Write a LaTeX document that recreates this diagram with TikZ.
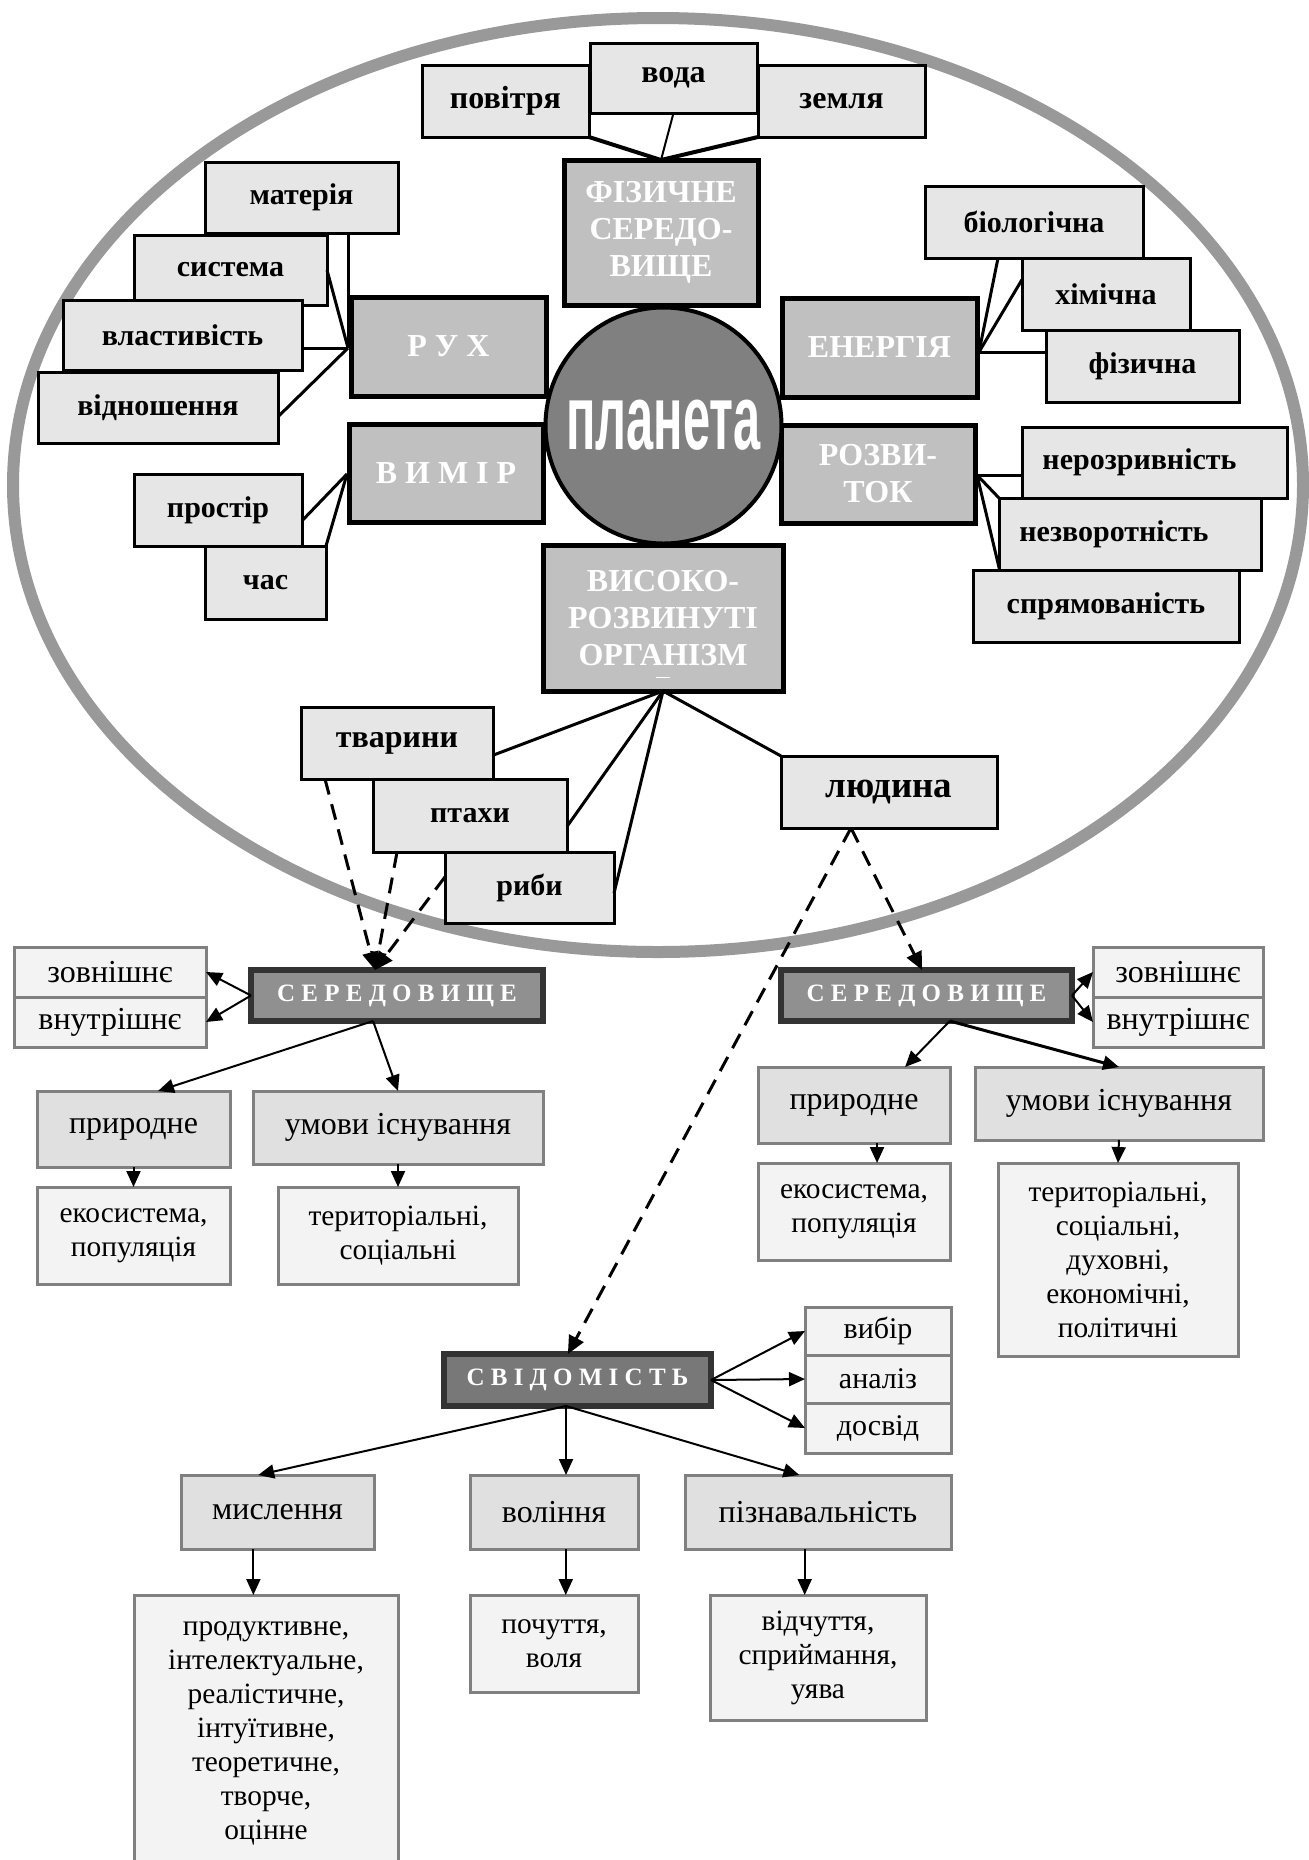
\documentclass[tikz,border=0pt]{standalone}
\usepackage{fontspec}
\setmainfont{Liberation Serif}
\newfontfamily\planfont{Liberation Sans}
\usepackage{graphicx}
\usetikzlibrary{arrows.meta,calc}
\definecolor{ellgray}{HTML}{999999}
\definecolor{boxlight}{HTML}{E6E6E6}
\definecolor{hdrgray}{HTML}{C0C0C0}
\definecolor{planetgray}{HTML}{808080}
\definecolor{lowborder}{HTML}{808080}
\definecolor{midgray}{HTML}{E0E0E0}
\definecolor{palegray}{HTML}{F3F3F3}
\definecolor{darkb}{HTML}{333333}
\definecolor{dgray}{HTML}{909090}
\definecolor{dgraytwo}{HTML}{787878}
\tikzset{
  bxbase/.style={rectangle, inner sep=0pt, outer sep=0pt, align=center},
  lbox/.style={bxbase, draw=black, line width=1.5pt, fill=boxlight, font=\fontsize{15}{18}\selectfont\bfseries},
  lboxbig/.style={lbox, font=\fontsize{16}{18}\selectfont\bfseries},
  hbox/.style={bxbase, draw=black, line width=2.5pt, fill=hdrgray, text=white, font=\fontsize{16}{18.5}\selectfont\bfseries},
  gbox/.style={bxbase, draw=lowborder, line width=1.5pt, fill=midgray, font=\fontsize{16}{17}\selectfont},
  wbox/.style={gbox, fill=palegray, font=\fontsize{14.7}{17}\selectfont},
  sbox/.style={gbox, fill=palegray, font=\fontsize{15}{17}\selectfont},
  dbox/.style={bxbase, draw=darkb, line width=3pt, fill=dgray, text=white, font=\fontsize{12.5}{14}\selectfont\bfseries},
  conn/.style={line width=1.5pt},
  arr/.style={line width=1pt, -{Triangle[length=8pt,width=7pt]}},
  darr/.style={line width=1.5pt, dash pattern=on 8pt off 5pt, -{Triangle[length=9pt,width=8pt]}},
}
\newcommand\bx[7]{%
  \node[#6, minimum width={(#4-(#2))*0.5pt}, minimum height={(#5-(#3))*0.5pt}] (#1) at ({((#2)+(#4))/2},{((#3)+(#5))/2}) {#7};}
\begin{document}
\begin{tikzpicture}[x=0.5pt,y=-0.5pt]
\useasboundingbox (0,0) rectangle (1309,1860);
\fill[white] (0,0) rectangle (1309,1860);
% big ellipse
\draw[ellgray, line width=6pt] (658,485) ellipse [x radius=645, y radius=467];

% top group
\bx{pov}{422}{65}{589}{137}{lboxbig}{повітря}
\bx{voda}{590}{43}{757}{113}{lboxbig}{вода}
\bx{zem}{758}{65}{925}{137}{lboxbig}{земля}
\bx{fiz}{564}{160}{758}{305}{hbox}{ФІЗИЧНЕ\\СЕРЕДО-\\ВИЩЕ}

% рух
\bx{mat}{205}{162}{398}{233}{lbox}{матерія}
\bx{sys}{134}{235}{327}{305}{lbox}{система}
\bx{vlast}{63}{300}{302}{370}{lbox}{властивість}
\bx{vidn}{38}{372}{278}{443}{lbox}{відношення}
\bx{rukh}{351}{297}{546}{396}{hbox}{Р У Х}

% вимір
\bx{vymir}{349}{424}{543}{522}{hbox}{В И М І Р}
\bx{prost}{134}{474}{302}{546}{lbox}{простір}
\bx{chas}{205}{546}{326}{619}{lbox}{час}

% енергія
\bx{energ}{782}{298}{977}{397}{hbox}{ЕНЕРГІЯ}
\bx{biol}{925}{186}{1143}{258}{lbox}{біологічна}
\bx{khim}{1022}{258}{1190}{330}{lbox}{хімічна}
\bx{fizn}{1046}{330}{1239}{402}{lbox}{фізична}

% розвиток
\bx{rozv}{781}{425}{975}{523}{hbox}{РОЗВИ-\\ТОК}
\bx{neroz}{1022}{427}{1287}{498}{lbox}{нерозривність\hspace*{15pt}}
\bx{nezv}{999}{498}{1261}{570}{lbox}{незворотність\hspace*{16pt}}
\bx{spr}{973}{570}{1239}{642}{lbox}{спрямованість}

% planet
\node[circle, draw=black, line width=2pt, fill=planetgray, minimum size=118pt, inner sep=0pt, text=white] (planet) at (663.5,425.5) {\planfont\bfseries\fontsize{46}{50}\selectfont\scalebox{0.53}[1]{планета}};

% organisms
\bx{vys}{543}{545}{783}{691}{hbox}{ВИСОКО-\\РОЗВИНУТІ\\ОРГАНІЗМ}
\draw[white, line width=0.4pt] ($(vys.south)+(-7,-14)$) -- ($(vys.south)+(7,-14)$);
\bx{tvar}{301}{707}{493}{779}{lboxbig}{тварини}
\bx{ptah}{373}{779}{567}{852}{lbox}{птахи}
\bx{ryby}{445}{852}{614}{923}{lbox}{риби}
\bx{lyud}{781}{756}{997}{828}{lbox, font=\fontsize{18.5}{20}\selectfont\bfseries}{людина}

% lower left
\bx{serL}{251}{970}{543}{1021}{dbox}{С Е Р Е Д О В И Щ Е}
\bx{zovL}{14}{947}{206}{997}{gbox, fill=palegray}{зовнішнє}
\bx{vnuL}{14}{997}{206}{1047}{gbox, fill=palegray}{внутрішнє}
\bx{prirL}{37}{1091}{230}{1167}{gbox}{природне}
\bx{umovL}{253}{1091}{543}{1164}{gbox}{умови існування}
\bx{ekoL}{37}{1187}{230}{1284}{wbox}{екосистема,\\популяція}
\bx{terL}{278}{1187}{518}{1284}{wbox}{територіальні,\\соціальні}

% lower right
\bx{serR}{781}{970}{1072}{1021}{dbox}{С Е Р Е Д О В И Щ Е}
\bx{zovR}{1093}{947}{1263}{997}{gbox, fill=palegray}{зовнішнє}
\bx{vnuR}{1093}{997}{1263}{1047}{gbox, fill=palegray}{внутрішнє}
\bx{prirR}{758}{1067}{950}{1143}{gbox}{природне}
\bx{umovR}{975}{1067}{1263}{1140}{gbox}{умови існування}
\bx{ekoR}{758}{1163}{950}{1260}{wbox}{екосистема,\\популяція}
\bx{terR}{998}{1163}{1238}{1356}{wbox}{територіальні,\\соціальні,\\духовні,\\економічні,\\політичні}

% свідомість
\bx{svid}{444}{1354}{711}{1406}{dbox, fill=dgraytwo}{С В І Д О М І С Т Ь}
\bx{vyb}{805}{1307}{951}{1355}{sbox}{вибір}
\bx{anal}{805}{1355}{951}{1403}{sbox}{аналіз}
\bx{dosv}{805}{1403}{951}{1453}{sbox}{досвід}
\bx{mysl}{181}{1475}{374}{1549}{gbox}{мислення}
\bx{vol}{470}{1475}{638}{1549}{gbox}{воління}
\bx{pizn}{685}{1475}{951}{1549}{gbox}{пізнавальність}
\bx{prod}{134}{1595}{398}{1872}{wbox}{продуктивне,\\інтелектуальне,\\реалістичне,\\інтуїтивне,\\теоретичне,\\творче,\\оцінне}
\bx{poch}{470}{1595}{638}{1692}{wbox}{почуття,\\воля}
\bx{vidch}{710}{1595}{926}{1720}{wbox}{відчуття,\\сприймання,\\уява}

% ---- connectors inside ellipse
\draw[line width=2pt] (pov.south east) -- (fiz.north);
\draw[line width=2pt] (zem.south west) -- (fiz.north);
\draw[line width=1pt] (voda.south) -- (fiz.north);

\coordinate (rhub) at (348,348);
\draw[conn] (mat.south -| rhub) -- (rhub);
\draw[conn] (sys.east) -- (rhub);
\draw[conn] (rhub -| vlast.east) -- (rhub);
\draw[conn] ($(vidn.south east)!0.37!(vidn.north east)$) -- (rhub);

\coordinate (vhub) at (347,474);
\draw[conn] (vhub) -- ($(prost.south east)!0.35!(prost.north east)$);
\draw[conn] (vhub) -- (chas.north east);

\coordinate (ehub) at (979,352);
\draw[conn] (ehub) -- ($(biol.south west)!0.335!(biol.south east)$);
\draw[conn] (ehub) -- ($(khim.north west)!0.3!(khim.south west)$);
\draw[conn] (ehub) -- (ehub -| fizn.west);

\coordinate (zhub) at (977,475);
\draw[conn] (zhub) -- (zhub -| neroz.west);
\draw[conn] (zhub) -- (nezv.north west);
\draw[conn] (zhub) -- ($(spr.north west)!0.1!(spr.north east)$);

\draw[conn] (vys.south) -- ($(tvar.south east)!0.33!(tvar.north east)$);
\draw[conn] (vys.south) -- ($(ptah.south east)!0.35!(ptah.north east)$);
\draw[conn] (vys.south) -- ($(ryby.south east)!0.42!(ryby.north east)$);
\draw[conn] (vys.south) -- (lyud.north west);

% ---- dashed arrows
\coordinate (sLtop) at ($(serL.north west)!0.425!(serL.north east)$);
\draw[darr] ($(tvar.south west)!0.125!(tvar.south east)$) -- (sLtop);
\draw[darr] ($(ptah.south west)!0.124!(ptah.south east)$) -- (sLtop);
\draw[darr] ($(ryby.north west)!0.35!(ryby.south west)$) -- (sLtop);
\coordinate (lyb) at ($(lyud.south west)!0.324!(lyud.south east)$);
\draw[darr] (lyb) -- ($(serR.north west)!0.485!(serR.north east)$);
\draw[darr] (lyb) -- ($(svid.north west)!0.464!(svid.north east)$);

% ---- lower left arrows
\draw[arr] (serL.west) -- (zovL.east);
\draw[arr] (serL.west) -- (vnuL.east);
\coordinate (sLbot) at ($(serL.south west)!0.418!(serL.south east)$);
\draw[arr] (sLbot) -- ($(prirL.north west)!0.627!(prirL.north east)$);
\draw[arr] (sLbot) -- (umovL.north);
\draw[arr] (prirL.south) -- (ekoL.north);
\draw[arr] (umovL.south) -- (terL.north);

% ---- lower right arrows
\draw[arr] (serR.east) -- (zovR.west);
\draw[arr] (serR.east) -- (vnuR.west);
\coordinate (sRbot) at ($(serR.south west)!0.58!(serR.south east)$);
\draw[arr] (sRbot) -- ($(prirR.north west)!0.766!(prirR.north east)$);
\draw[arr, line width=1.5pt] (sRbot) -- (umovR.north);
\coordinate (pRb) at ($(prirR.south west)!0.62!(prirR.south east)$);
\draw[arr] (pRb) -- (pRb |- ekoR.north);
\draw[arr] (umovR.south) -- (terR.north);

% ---- свідомість arrows
\draw[arr] (svid.east) -- (vyb.west);
\draw[arr] (svid.east) -- (anal.west);
\draw[arr] (svid.east) -- (dosv.west);
\coordinate (svb) at ($(svid.south west)!0.457!(svid.south east)$);
\draw[arr] (svb) -- ($(mysl.north west)!0.40!(mysl.north east)$);
\draw[arr] (svb) -- (svb |- vol.north);
\draw[arr] (svb) -- ($(pizn.north west)!0.43!(pizn.north east)$);
\coordinate (mb) at ($(mysl.south west)!0.375!(mysl.south east)$);
\draw[arr] (mb) -- (mb |- prod.north);
\coordinate (vb) at ($(vol.south west)!0.57!(vol.south east)$);
\draw[arr] (vb) -- (vb |- poch.north);
\coordinate (pb) at ($(pizn.south west)!0.45!(pizn.south east)$);
\draw[arr] (pb) -- (pb |- vidch.north);
\end{tikzpicture}
\end{document}
